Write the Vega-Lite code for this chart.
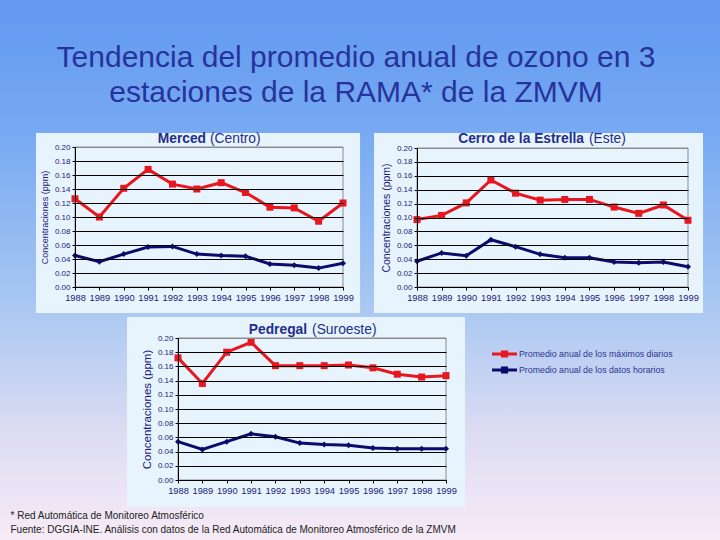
{
"$schema":"https://vega.github.io/schema/vega-lite/v6.json",
"width":720,"height":540,"autosize":{"type":"none"},"padding":0,
"background":"#f7ebf6",
"config":{"font":"Liberation Sans","view":{"stroke":null,"fill":{"gradient":"linear","x1":0,"y1":0,"x2":0,"y2":1,"stops":[{"offset":0,"color":"#6199f0"},{"offset":0.25,"color":"#78aaf3"},{"offset":0.55,"color":"#a6c6f2"},{"offset":0.8,"color":"#dcdcf3"},{"offset":1,"color":"#f7ebf6"}]}}},
"title":{"text":["Tendencia del promedio anual de ozono en 3","estaciones de la RAMA* de la ZMVM"],"font":"Liberation Sans","fontSize":30,"fontWeight":"normal","color":"#26339b","lineHeight":35,"anchor":"middle","frame":"group","offset":0,"dx":-4,"dy":108},
"data":{"values":[
{"station":"Merced","year":1988,"series":"max","value":0.126},{"station":"Merced","year":1989,"series":"max","value":0.100},{"station":"Merced","year":1990,"series":"max","value":0.141},{"station":"Merced","year":1991,"series":"max","value":0.168},{"station":"Merced","year":1992,"series":"max","value":0.147},{"station":"Merced","year":1993,"series":"max","value":0.140},{"station":"Merced","year":1994,"series":"max","value":0.149},{"station":"Merced","year":1995,"series":"max","value":0.135},{"station":"Merced","year":1996,"series":"max","value":0.114},{"station":"Merced","year":1997,"series":"max","value":0.113},{"station":"Merced","year":1998,"series":"max","value":0.094},{"station":"Merced","year":1999,"series":"max","value":0.120},
{"station":"Merced","year":1988,"series":"hor","value":0.045},{"station":"Merced","year":1989,"series":"hor","value":0.036},{"station":"Merced","year":1990,"series":"hor","value":0.047},{"station":"Merced","year":1991,"series":"hor","value":0.057},{"station":"Merced","year":1992,"series":"hor","value":0.058},{"station":"Merced","year":1993,"series":"hor","value":0.047},{"station":"Merced","year":1994,"series":"hor","value":0.045},{"station":"Merced","year":1995,"series":"hor","value":0.044},{"station":"Merced","year":1996,"series":"hor","value":0.033},{"station":"Merced","year":1997,"series":"hor","value":0.031},{"station":"Merced","year":1998,"series":"hor","value":0.027},{"station":"Merced","year":1999,"series":"hor","value":0.034},
{"station":"Cerro","year":1988,"series":"max","value":0.097},{"station":"Cerro","year":1989,"series":"max","value":0.103},{"station":"Cerro","year":1990,"series":"max","value":0.121},{"station":"Cerro","year":1991,"series":"max","value":0.154},{"station":"Cerro","year":1992,"series":"max","value":0.135},{"station":"Cerro","year":1993,"series":"max","value":0.125},{"station":"Cerro","year":1994,"series":"max","value":0.126},{"station":"Cerro","year":1995,"series":"max","value":0.126},{"station":"Cerro","year":1996,"series":"max","value":0.115},{"station":"Cerro","year":1997,"series":"max","value":0.106},{"station":"Cerro","year":1998,"series":"max","value":0.118},{"station":"Cerro","year":1999,"series":"max","value":0.096},
{"station":"Cerro","year":1988,"series":"hor","value":0.037},{"station":"Cerro","year":1989,"series":"hor","value":0.049},{"station":"Cerro","year":1990,"series":"hor","value":0.045},{"station":"Cerro","year":1991,"series":"hor","value":0.068},{"station":"Cerro","year":1992,"series":"hor","value":0.058},{"station":"Cerro","year":1993,"series":"hor","value":0.047},{"station":"Cerro","year":1994,"series":"hor","value":0.042},{"station":"Cerro","year":1995,"series":"hor","value":0.042},{"station":"Cerro","year":1996,"series":"hor","value":0.036},{"station":"Cerro","year":1997,"series":"hor","value":0.035},{"station":"Cerro","year":1998,"series":"hor","value":0.036},{"station":"Cerro","year":1999,"series":"hor","value":0.029},
{"station":"Pedregal","year":1988,"series":"max","value":0.172},{"station":"Pedregal","year":1989,"series":"max","value":0.136},{"station":"Pedregal","year":1990,"series":"max","value":0.180},{"station":"Pedregal","year":1991,"series":"max","value":0.194},{"station":"Pedregal","year":1992,"series":"max","value":0.161},{"station":"Pedregal","year":1993,"series":"max","value":0.161},{"station":"Pedregal","year":1994,"series":"max","value":0.161},{"station":"Pedregal","year":1995,"series":"max","value":0.162},{"station":"Pedregal","year":1996,"series":"max","value":0.158},{"station":"Pedregal","year":1997,"series":"max","value":0.149},{"station":"Pedregal","year":1998,"series":"max","value":0.145},{"station":"Pedregal","year":1999,"series":"max","value":0.147},
{"station":"Pedregal","year":1988,"series":"hor","value":0.054},{"station":"Pedregal","year":1989,"series":"hor","value":0.043},{"station":"Pedregal","year":1990,"series":"hor","value":0.054},{"station":"Pedregal","year":1991,"series":"hor","value":0.065},{"station":"Pedregal","year":1992,"series":"hor","value":0.061},{"station":"Pedregal","year":1993,"series":"hor","value":0.052},{"station":"Pedregal","year":1994,"series":"hor","value":0.050},{"station":"Pedregal","year":1995,"series":"hor","value":0.049},{"station":"Pedregal","year":1996,"series":"hor","value":0.045},{"station":"Pedregal","year":1997,"series":"hor","value":0.044},{"station":"Pedregal","year":1998,"series":"hor","value":0.044},{"station":"Pedregal","year":1999,"series":"hor","value":0.044}
]},
"layer":[
{"layer":[
 {"data":{"values":[{}]},"mark":{"type":"rect","color":"#e8f4fd"},"encoding":{"x":{"datum":1986.4,"type":"quantitative","scale":{"domain":[1988,1999],"range":[75,343],"nice":false,"zero":false}},"x2":{"datum":1999.7},"y":{"datum":0.22,"type":"quantitative","scale":{"domain":[0,0.2],"range":[287,147],"nice":false,"zero":false}},"y2":{"datum":-0.0371}}},
 {"data":{"values":[{}]},"mark":{"type":"rect","filled":false,"color":"#8c8c8c","strokeWidth":1},"encoding":{"x":{"datum":1988,"type":"quantitative","scale":{"domain":[1988,1999],"range":[75,343],"nice":false,"zero":false}},"x2":{"datum":1999},"y":{"datum":0,"type":"quantitative","scale":{"domain":[0,0.2],"range":[287,147],"nice":false,"zero":false}},"y2":{"datum":0.2}}},
 {"transform":[{"filter":"datum.station === 'Merced'"}],"mark":{"type":"line","strokeWidth":3},"encoding":{
   "x":{"field":"year","type":"quantitative","scale":{"domain":[1988,1999],"range":[75,343],"nice":false,"zero":false},"axis":{"orient":"bottom","offset":-253,"values":[1988,1989,1990,1991,1992,1993,1994,1995,1996,1997,1998,1999],"format":"d","title":null,"grid":false,"labelFlush":false,"labelOverlap":false,"labelFont":"Liberation Sans","labelFontSize":9.3,"labelColor":"#20207a","labelPadding":3,"tickSize":3,"tickColor":"black","domainColor":"black","zindex":1}},
   "y":{"field":"value","type":"quantitative","scale":{"domain":[0,0.2],"range":[287,147],"nice":false,"zero":false},"axis":{"orient":"left","offset":-75,"values":[0,0.02,0.04,0.06,0.08,0.1,0.12,0.14,0.16,0.18,0.2],"format":".2f","title":"Concentraciones (ppm)","titleFont":"Liberation Sans","titleFontSize":9,"titleFontWeight":"normal","titleColor":"#20207a","titlePadding":5,"grid":true,"gridColor":{"condition":{"test":"datum.value > 0.19","value":"#8c8c8c"},"value":"black"},"labelFlush":false,"labelOverlap":false,"labelFont":"Liberation Sans","labelFontSize":8,"labelColor":"#20207a","labelPadding":2,"tickSize":3,"tickColor":"black","domainColor":"black","zindex":1}},
   "color":{"field":"series","type":"nominal","scale":{"domain":["max","hor"],"range":["#e8161e","#0b0b6c"]},"legend":{"title":null,"orient":"none","legendX":496.5,"legendY":346,"direction":"vertical","symbolType":"M-1.5625,-0.19H1.5625V0.19H-1.5625Z M-0.45,-0.45H0.45V0.45H-0.45Z","symbolSize":256,"symbolStrokeWidth":0,"labelExpr":"datum.value === 'max' ? 'Promedio anual de los máximos diarios' : 'Promedio anual de los datos horarios'","labelFont":"Liberation Sans","labelFontSize":8.8,"labelColor":"#2a3590","labelOffset":6.5,"labelLimit":0,"rowPadding":3,"padding":0,"encode":{"symbols":{"update":{"fill":{"scale":"color","field":"value"},"stroke":{"value":"transparent"},"shape":{"value":"M-1.5625,-0.19H1.5625V0.19H-1.5625Z M-0.45,-0.45H0.45V0.45H-0.45Z"},"size":{"value":256}}}}}}}},
 {"transform":[{"filter":"datum.station === 'Merced' && datum.series === 'max'"}],"mark":{"type":"point","shape":"square","size":49,"filled":true,"opacity":1},"encoding":{
   "x":{"field":"year","type":"quantitative","scale":{"domain":[1988,1999],"range":[75,343],"nice":false,"zero":false}},
   "y":{"field":"value","type":"quantitative","scale":{"domain":[0,0.2],"range":[287,147],"nice":false,"zero":false}},
   "color":{"field":"series","type":"nominal"}}},
 {"transform":[{"filter":"datum.station === 'Merced' && datum.series === 'hor'"}],"mark":{"type":"point","shape":"diamond","size":36,"filled":true,"opacity":1},"encoding":{
   "x":{"field":"year","type":"quantitative","scale":{"domain":[1988,1999],"range":[75,343],"nice":false,"zero":false}},
   "y":{"field":"value","type":"quantitative","scale":{"domain":[0,0.2],"range":[287,147],"nice":false,"zero":false}},
   "color":{"field":"series","type":"nominal"}}},
 {"data":{"values":[{}]},"mark":{"type":"text","text":"Merced","align":"right","baseline":"alphabetic","dx":-2,"font":"Liberation Sans","fontSize":13.8,"fontWeight":"bold","color":"#222e8c"},"encoding":{"x":{"datum":1993.46,"type":"quantitative","scale":{"domain":[1988,1999],"range":[75,343],"nice":false,"zero":false}},"y":{"datum":0.2057,"type":"quantitative","scale":{"domain":[0,0.2],"range":[287,147],"nice":false,"zero":false}}}},
 {"data":{"values":[{}]},"mark":{"type":"text","text":"(Centro)","align":"left","baseline":"alphabetic","dx":2,"font":"Liberation Sans","fontSize":13.8,"fontWeight":"normal","color":"#222e8c"},"encoding":{"x":{"datum":1993.46,"type":"quantitative","scale":{"domain":[1988,1999],"range":[75,343],"nice":false,"zero":false}},"y":{"datum":0.2057,"type":"quantitative","scale":{"domain":[0,0.2],"range":[287,147],"nice":false,"zero":false}}}}
]},
{"layer":[
 {"data":{"values":[{}]},"mark":{"type":"rect","color":"#e8f4fd"},"encoding":{"x":{"datum":1986.255,"type":"quantitative","scale":{"domain":[1988,1999],"range":[417,688],"nice":false,"zero":false}},"x2":{"datum":1999.61},"y":{"datum":0.2216,"type":"quantitative","scale":{"domain":[0,0.2],"range":[287,148],"nice":false,"zero":false}},"y2":{"datum":-0.0374}}},
 {"data":{"values":[{}]},"mark":{"type":"rect","filled":false,"color":"#8c8c8c","strokeWidth":1},"encoding":{"x":{"datum":1988,"type":"quantitative","scale":{"domain":[1988,1999],"range":[417,688],"nice":false,"zero":false}},"x2":{"datum":1999},"y":{"datum":0,"type":"quantitative","scale":{"domain":[0,0.2],"range":[287,148],"nice":false,"zero":false}},"y2":{"datum":0.2}}},
 {"transform":[{"filter":"datum.station === 'Cerro'"}],"mark":{"type":"line","strokeWidth":3},"encoding":{
   "x":{"field":"year","type":"quantitative","scale":{"domain":[1988,1999],"range":[417,688],"nice":false,"zero":false},"axis":{"orient":"bottom","offset":-253,"values":[1988,1989,1990,1991,1992,1993,1994,1995,1996,1997,1998,1999],"format":"d","title":null,"grid":false,"labelFlush":false,"labelOverlap":false,"labelFont":"Liberation Sans","labelFontSize":9.3,"labelColor":"#20207a","labelPadding":3,"tickSize":3,"tickColor":"black","domainColor":"black","zindex":1}},
   "y":{"field":"value","type":"quantitative","scale":{"domain":[0,0.2],"range":[287,148],"nice":false,"zero":false},"axis":{"orient":"left","offset":-417,"values":[0,0.02,0.04,0.06,0.08,0.1,0.12,0.14,0.16,0.18,0.2],"format":".2f","title":"Concentraciones (ppm)","titleFont":"Liberation Sans","titleFontSize":10.5,"titleFontWeight":"normal","titleColor":"#20207a","titlePadding":5,"grid":true,"gridColor":{"condition":{"test":"datum.value > 0.19","value":"#8c8c8c"},"value":"black"},"labelFlush":false,"labelOverlap":false,"labelFont":"Liberation Sans","labelFontSize":8,"labelColor":"#20207a","labelPadding":2,"tickSize":3,"tickColor":"black","domainColor":"black","zindex":1}},
   "color":{"field":"series","type":"nominal"}}},
 {"transform":[{"filter":"datum.station === 'Cerro' && datum.series === 'max'"}],"mark":{"type":"point","shape":"square","size":49,"filled":true,"opacity":1},"encoding":{
   "x":{"field":"year","type":"quantitative","scale":{"domain":[1988,1999],"range":[417,688],"nice":false,"zero":false}},
   "y":{"field":"value","type":"quantitative","scale":{"domain":[0,0.2],"range":[287,148],"nice":false,"zero":false}},
   "color":{"field":"series","type":"nominal"}}},
 {"transform":[{"filter":"datum.station === 'Cerro' && datum.series === 'hor'"}],"mark":{"type":"point","shape":"diamond","size":36,"filled":true,"opacity":1},"encoding":{
   "x":{"field":"year","type":"quantitative","scale":{"domain":[1988,1999],"range":[417,688],"nice":false,"zero":false}},
   "y":{"field":"value","type":"quantitative","scale":{"domain":[0,0.2],"range":[287,148],"nice":false,"zero":false}},
   "color":{"field":"series","type":"nominal"}}},
 {"data":{"values":[{}]},"mark":{"type":"text","text":"Cerro de la Estrella","align":"right","baseline":"alphabetic","dx":-2.5,"font":"Liberation Sans","fontSize":13.8,"fontWeight":"bold","color":"#222e8c"},"encoding":{"x":{"datum":1994.88,"type":"quantitative","scale":{"domain":[1988,1999],"range":[417,688],"nice":false,"zero":false}},"y":{"datum":0.2072,"type":"quantitative","scale":{"domain":[0,0.2],"range":[287,148],"nice":false,"zero":false}}}},
 {"data":{"values":[{}]},"mark":{"type":"text","text":"(Este)","align":"left","baseline":"alphabetic","dx":2.5,"font":"Liberation Sans","fontSize":13.8,"fontWeight":"normal","color":"#222e8c"},"encoding":{"x":{"datum":1994.88,"type":"quantitative","scale":{"domain":[1988,1999],"range":[417,688],"nice":false,"zero":false}},"y":{"datum":0.2072,"type":"quantitative","scale":{"domain":[0,0.2],"range":[287,148],"nice":false,"zero":false}}}}
]},
{"layer":[
 {"data":{"values":[{}]},"mark":{"type":"rect","color":"#e8f4fd"},"encoding":{"x":{"datum":1985.906,"type":"quantitative","scale":{"domain":[1988,1999],"range":[178,446],"nice":false,"zero":false}},"x2":{"datum":1999.78},"y":{"datum":0.2296,"type":"quantitative","scale":{"domain":[0,0.2],"range":[480,338],"nice":false,"zero":false}},"y2":{"datum":-0.038}}},
 {"data":{"values":[{}]},"mark":{"type":"rect","filled":false,"color":"#8c8c8c","strokeWidth":1},"encoding":{"x":{"datum":1988,"type":"quantitative","scale":{"domain":[1988,1999],"range":[178,446],"nice":false,"zero":false}},"x2":{"datum":1999},"y":{"datum":0,"type":"quantitative","scale":{"domain":[0,0.2],"range":[480,338],"nice":false,"zero":false}},"y2":{"datum":0.2}}},
 {"transform":[{"filter":"datum.station === 'Pedregal'"}],"mark":{"type":"line","strokeWidth":3},"encoding":{
   "x":{"field":"year","type":"quantitative","scale":{"domain":[1988,1999],"range":[178,446],"nice":false,"zero":false},"axis":{"orient":"bottom","offset":-60,"values":[1988,1989,1990,1991,1992,1993,1994,1995,1996,1997,1998,1999],"format":"d","title":["* Red Automática de Monitoreo Atmosférico","Fuente: DGGIA-INE. Análisis con datos de la Red Automática de Monitoreo Atmosférico de la ZMVM"],"titleX":10,"titleY":38,"titleAlign":"left","titleAnchor":"start","titleBaseline":"alphabetic","titleFont":"Liberation Sans","titleFontSize":10,"titleFontWeight":"normal","titleColor":"#222222","titleLineHeight":14,"grid":false,"labelFlush":false,"labelOverlap":false,"labelFont":"Liberation Sans","labelFontSize":9.3,"labelColor":"#20207a","labelPadding":3,"tickSize":3,"tickColor":"black","domainColor":"black","zindex":1}},
   "y":{"field":"value","type":"quantitative","scale":{"domain":[0,0.2],"range":[480,338],"nice":false,"zero":false},"axis":{"orient":"left","offset":-178,"values":[0,0.02,0.04,0.06,0.08,0.1,0.12,0.14,0.16,0.18,0.2],"format":".2f","title":"Concentraciones (ppm)","titleFont":"Liberation Sans","titleFontSize":11.5,"titleFontWeight":"normal","titleColor":"#20207a","titlePadding":5,"grid":true,"gridColor":{"condition":{"test":"datum.value > 0.19","value":"#8c8c8c"},"value":"black"},"labelFlush":false,"labelOverlap":false,"labelFont":"Liberation Sans","labelFontSize":8,"labelColor":"#20207a","labelPadding":2,"tickSize":3,"tickColor":"black","domainColor":"black","zindex":1}},
   "color":{"field":"series","type":"nominal"}}},
 {"transform":[{"filter":"datum.station === 'Pedregal' && datum.series === 'max'"}],"mark":{"type":"point","shape":"square","size":49,"filled":true,"opacity":1},"encoding":{
   "x":{"field":"year","type":"quantitative","scale":{"domain":[1988,1999],"range":[178,446],"nice":false,"zero":false}},
   "y":{"field":"value","type":"quantitative","scale":{"domain":[0,0.2],"range":[480,338],"nice":false,"zero":false}},
   "color":{"field":"series","type":"nominal"}}},
 {"transform":[{"filter":"datum.station === 'Pedregal' && datum.series === 'hor'"}],"mark":{"type":"point","shape":"diamond","size":36,"filled":true,"opacity":1},"encoding":{
   "x":{"field":"year","type":"quantitative","scale":{"domain":[1988,1999],"range":[178,446],"nice":false,"zero":false}},
   "y":{"field":"value","type":"quantitative","scale":{"domain":[0,0.2],"range":[480,338],"nice":false,"zero":false}},
   "color":{"field":"series","type":"nominal"}}},
 {"data":{"values":[{}]},"mark":{"type":"text","text":"Pedregal","align":"right","baseline":"alphabetic","dx":-2.5,"font":"Liberation Sans","fontSize":13.8,"fontWeight":"bold","color":"#222e8c"},"encoding":{"x":{"datum":1993.40,"type":"quantitative","scale":{"domain":[1988,1999],"range":[178,446],"nice":false,"zero":false}},"y":{"datum":0.2056,"type":"quantitative","scale":{"domain":[0,0.2],"range":[480,338],"nice":false,"zero":false}}}},
 {"data":{"values":[{}]},"mark":{"type":"text","text":"(Suroeste)","align":"left","baseline":"alphabetic","dx":2.5,"font":"Liberation Sans","fontSize":13.8,"fontWeight":"normal","color":"#222e8c"},"encoding":{"x":{"datum":1993.40,"type":"quantitative","scale":{"domain":[1988,1999],"range":[178,446],"nice":false,"zero":false}},"y":{"datum":0.2056,"type":"quantitative","scale":{"domain":[0,0.2],"range":[480,338],"nice":false,"zero":false}}}}
]}
],
"resolve":{"scale":{"x":"independent","y":"independent"},"axis":{"x":"independent","y":"independent"}}
}
